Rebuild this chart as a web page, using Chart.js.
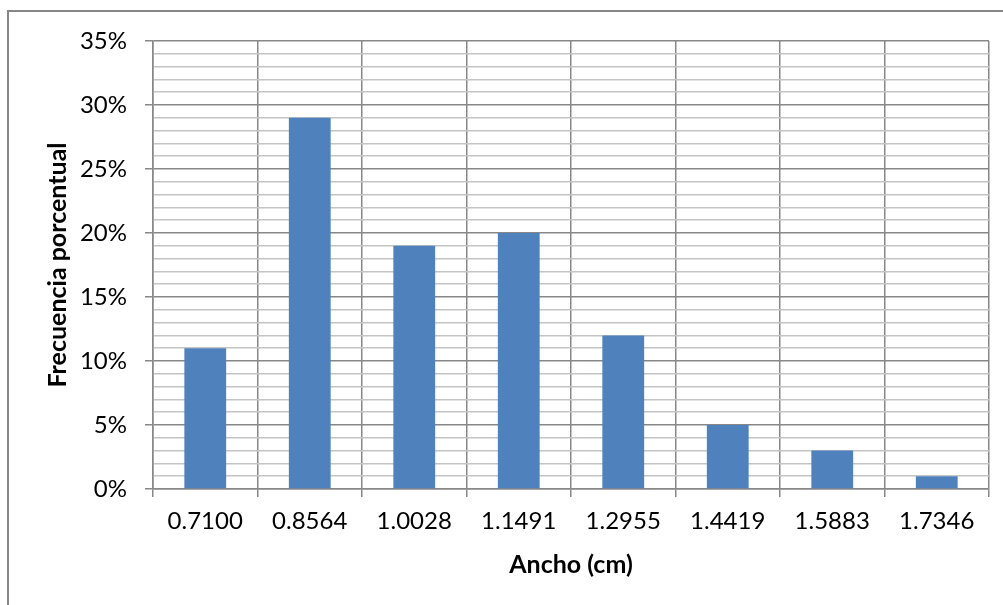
<!DOCTYPE html>
<html>
<head>
<meta charset="utf-8">
<script src="https://cdn.jsdelivr.net/npm/chart.js@4/dist/chart.umd.min.js"></script>
<style>
  html, body { margin: 0; padding: 0; background: #ffffff; }
  #wrap { width: 1003px; height: 605px; position: relative; }
</style>
</head>
<body>
<div id="wrap"><canvas id="chart" width="1003" height="605"></canvas></div>
<script>
// Histogram of widths: class marks and percentage frequency
const categories = ['0.7100', '0.8564', '1.0028', '1.1491', '1.2955', '1.4419', '1.5883', '1.7346'];
const frequencyPct = [11, 29, 19, 20, 12, 5, 3, 1];
const yMax = 35;
const yStep = 1;
const yMajorStep = 5;

const FONT = 'Lato, "Open Sans", "Liberation Sans", sans-serif';
const MAJOR_GRID = '#878787';
const MINOR_GRID = '#c4c4c4';

// Frame around the whole chart object (top and left edges)
const framePlugin = {
  id: 'frame',
  beforeDraw(chart) {
    const ctx = chart.ctx;
    ctx.save();
    ctx.fillStyle = '#ffffff';
    ctx.fillRect(0, 0, chart.width, chart.height);
    ctx.strokeStyle = '#868686';
    ctx.lineWidth = 2;
    ctx.beginPath();
    ctx.moveTo(8, chart.height);
    ctx.lineTo(8, 11);
    ctx.lineTo(chart.width, 11);
    ctx.stroke();
    ctx.restore();
  }
};

new Chart(document.getElementById('chart'), {
  type: 'bar',
  data: {
    labels: categories,
    datasets: [{
      data: frequencyPct,
      backgroundColor: '#4f81bd',
      borderWidth: 0,
      barPercentage: 0.4,
      categoryPercentage: 1.0
    }]
  },
  options: {
    responsive: false,
    animation: false,
    events: [],
    layout: { padding: { left: 0, right: 14, top: 41, bottom: 0 } },
    plugins: {
      legend: { display: false },
      tooltip: { enabled: false },
      title: { display: false }
    },
    scales: {
      x: {
        grid: {
          offset: true,
          color: MAJOR_GRID,
          lineWidth: 1.5,
          drawTicks: true,
          tickLength: 8,
          tickColor: MAJOR_GRID
        },
        border: { color: MAJOR_GRID, width: 1.5 },
        ticks: {
          color: '#000000',
          font: { family: FONT, size: 24 },
          padding: 10,
          maxRotation: 0,
          autoSkip: false
        },
        title: {
          display: true,
          text: 'Ancho (cm)',
          color: '#000000',
          font: { family: FONT, size: 25, weight: 'bold' },
          padding: { top: 0, bottom: 25 }
        },
        afterFit(scale) { scale.height = 116; }
      },
      y: {
        min: 0,
        max: yMax,
        grid: {
          color: ctx => (ctx.tick && ctx.tick.value % yMajorStep === 0) ? MAJOR_GRID : MINOR_GRID,
          lineWidth: 1.5,
          drawTicks: true,
          tickLength: 8,
          tickColor: ctx => (ctx.tick && ctx.tick.value % yMajorStep === 0) ? MAJOR_GRID : 'rgba(0,0,0,0)'
        },
        border: { color: MAJOR_GRID, width: 1.5 },
        ticks: {
          stepSize: yStep,
          autoSkip: false,
          color: '#000000',
          font: { family: FONT, size: 24 },
          padding: 18,
          callback: v => (v % yMajorStep === 0) ? v + '%' : ''
        },
        title: {
          display: true,
          text: 'Frecuencia porcentual',
          color: '#000000',
          font: { family: FONT, size: 25, weight: 'bold' },
          padding: { top: 43, bottom: 0 }
        },
        afterFit(scale) { scale.width = 153; }
      }
    }
  },
  plugins: [framePlugin]
});
</script>
</body>
</html>
